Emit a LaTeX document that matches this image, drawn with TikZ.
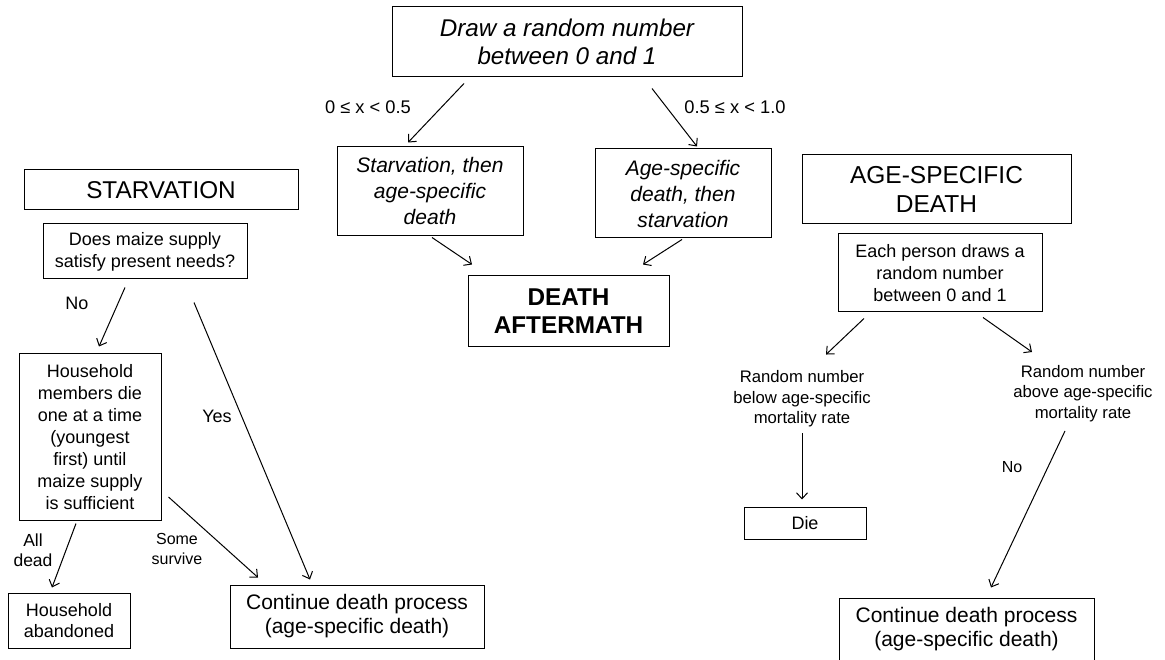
\documentclass[tikz,border=0pt]{standalone}
\usepackage{fontspec}
\setmainfont{Liberation Sans}
\usetikzlibrary{arrows.meta}

\tikzset{
  box/.style={draw, line width=1pt, inner sep=0pt, align=center},
  note/.style={inner sep=0pt, align=center},
  arr/.style={line width=1pt, -{Straight Barb[length=6pt,width=11pt]}},
}

\begin{document}
\begin{tikzpicture}[x=1pt, y=-1pt]
  \useasboundingbox (0,0) rectangle (1165,660);

  % middle: choice of order
  \node[box, minimum width=350, minimum height=70, font=\fontsize{24.2}{28}\selectfont\itshape]
    (rnd) at (567,42) {Draw a random number\\between 0 and 1};
  \node[box, minimum width=186, minimum height=89, font=\fontsize{21}{26}\selectfont\itshape]
    (starvfirst) at (430,191.5) {Starvation, then\\age-specific\\death};
  \node[box, minimum width=176, minimum height=89, font=\fontsize{21}{26}\selectfont\itshape]
    (agefirst) at (683,193.5) {Age-specific\\death, then\\starvation};
  \node[box, minimum width=201, minimum height=71, font=\fontsize{24.3}{28}\selectfont\bfseries]
    (aftermath) at (568.5,311.5) {DEATH\\AFTERMATH};
  \node[note, font=\fontsize{18.3}{20}\selectfont] (lbllow) at (368,107) {0 ≤ x < 0.5};
  \node[note, font=\fontsize{18.3}{20}\selectfont] (lblhigh) at (735,107) {0.5 ≤ x < 1.0};

  \draw[arr] ([xshift=-103pt,yshift=-6pt]rnd.south) -- ([xshift=-22pt,yshift=4pt]starvfirst.north);
  \draw[arr] ([xshift=85pt,yshift=-11pt]rnd.south) -- ([xshift=14pt,yshift=2pt]agefirst.north);
  \draw[arr] ([xshift=2pt,yshift=-1pt]starvfirst.south) -- ([xshift=-96.5pt,yshift=11pt]aftermath.north);
  \draw[arr] ([xshift=-1pt,yshift=-1pt]agefirst.south) -- ([xshift=74.5pt,yshift=11pt]aftermath.north);

  % left: starvation
  \node[box, minimum width=274, minimum height=40, font=\fontsize{24.3}{28}\selectfont]
    (starvhead) at (161,190) {STARVATION};
  \node[box, minimum width=204, minimum height=55, font=\fontsize{18}{21.7}\selectfont]
    (maize) at (145,251.5) {Does maize supply\\satisfy present needs?};
  \node[box, minimum width=142, minimum height=166, font=\fontsize{18}{22}\selectfont]
    (members) at (90,437) {Household\\members die\\one at a time\\(youngest\\first) until\\maize supply\\is sufficient};
  \node[box, minimum width=122, minimum height=55, font=\fontsize{18}{21.7}\selectfont]
    (abandoned) at (69,620.5) {Household\\abandoned};
  \node[box, minimum width=254, minimum height=63, font=\fontsize{21}{24}\selectfont]
    (contleft) at (357,616.5) {Continue death process\\(age-specific death)};
  \node[note, font=\fontsize{18}{20}\selectfont] (lblno) at (77,303) {No};
  \node[note, font=\fontsize{18}{20}\selectfont] (lblyes) at (217,416) {Yes};
  \node[note, font=\fontsize{17.5}{20}\selectfont] (lblall) at (33,550) {All\\dead};
  \node[note, font=\fontsize{16}{20}\selectfont] (lblsome) at (177,549) {Some\\survive};

  \draw[arr] ([xshift=-20pt,yshift=-8pt]maize.south) -- ([xshift=9pt,yshift=7pt]members.north);
  \draw[arr] ([xshift=49pt,yshift=-23pt]maize.south) -- ([xshift=-47pt,yshift=5pt]contleft.north);
  \draw[arr] ([xshift=-14pt,yshift=-3pt]members.south) -- ([xshift=-17pt,yshift=5pt]abandoned.north);
  \draw[arr] ([xshift=7pt,yshift=-60pt]members.east) -- ([xshift=-99pt,yshift=7pt]contleft.north);

  % right: age-specific death
  \node[box, minimum width=269, minimum height=69, font=\fontsize{24.5}{29}\selectfont]
    (agehead) at (936.5,189.5) {AGE-SPECIFIC\\DEATH};
  \node[box, minimum width=204, minimum height=78, font=\fontsize{18}{22}\selectfont]
    (eachdraw) at (940,273) {Each person draws a\\random number\\between 0 and 1};
  \node[note, font=\fontsize{16.7}{20.5}\selectfont]
    (below) at (802,399) {Random number\\below age-specific\\mortality rate};
  \node[note, font=\fontsize{16.7}{20.5}\selectfont]
    (above) at (1083,393.5) {Random number\\above age-specific\\mortality rate};
  \node[box, minimum width=122, minimum height=32, font=\fontsize{18}{22}\selectfont]
    (die) at (805,523) {Die};
  \node[box, minimum width=255, minimum height=63, font=\fontsize{21}{24}\selectfont]
    (contright) at (966.5,629.5) {Continue death process\\(age-specific death)};
  \node[note, font=\fontsize{16}{20}\selectfont] (lblnor) at (1012,467) {No};

  \draw[arr] ([xshift=-76pt,yshift=-6pt]eachdraw.south) -- ([xshift=24pt,yshift=16pt]below.north);
  \draw[arr] ([xshift=43pt,yshift=-5pt]eachdraw.south) -- ([xshift=-51pt,yshift=13pt]above.north);
  \draw[arr] ([yshift=-6pt]below.south) -- ([xshift=-3pt,yshift=7pt]die.north);
  \draw[arr] ([xshift=-18pt,yshift=-9pt]above.south) -- ([xshift=24.5pt,yshift=10pt]contright.north);
\end{tikzpicture}
\end{document}
